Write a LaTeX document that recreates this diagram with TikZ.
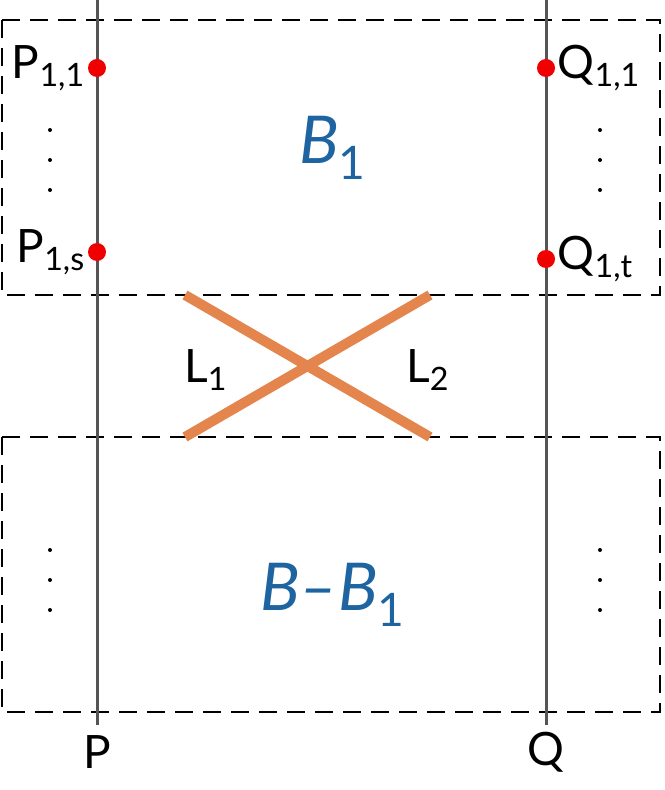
\documentclass[tikz,border=0pt]{standalone}
\usepackage{fontspec}
\setmainfont{Lato}
\usetikzlibrary{positioning}

\definecolor{axisgray}{HTML}{555555}
\definecolor{ptred}{HTML}{F00000}
\definecolor{lineorange}{HTML}{E3854D}
\definecolor{bblue}{HTML}{1E64A0}

\begin{document}
\begin{tikzpicture}[x=0.5pt, y=-0.5pt,
    axis/.style={axisgray, line width=1.5pt},
    region/.style={black, line width=1pt, dash pattern=on 9pt off 5pt},
    cross/.style={lineorange, line width=5pt},
    pt/.style={circle, fill=ptred, inner sep=0pt, minimum size=9pt},
    lbl/.style={font=\fontsize{23}{27}\selectfont, inner sep=1pt},
    big/.style={font=\fontsize{33}{38}\selectfont\itshape, text=bblue},
    dot/.style={circle, fill=black, inner sep=0pt, minimum size=2pt}]
    \useasboundingbox (0,0) rectangle (664,790);
    % regions
    \draw[region] (2,20) rectangle (660,295);
    \draw[region] (2,437) rectangle (660,712);
    % axes
    \coordinate (ptop) at (97,0);
    \coordinate (pbot) at (97,725);
    \coordinate (qtop) at (546,0);
    \coordinate (qbot) at (546,725);
    \draw[axis] (ptop) -- (pbot);
    \draw[axis] (qtop) -- (qbot);
    \node[lbl] (plabel) at (97,752) {P};
    \node[lbl] (qlabel) at (546,752) {Q};
    % points
    \node[pt] (p11) at (97,68) {};
    \node[pt] (p1s) at (97,252) {};
    \node[pt] (q11) at (546,68) {};
    \node[pt] (q1t) at (546,259) {};
    \node[lbl, left=0pt of p11] {P\textsubscript{1,1}};
    \node[lbl, left=0pt of p1s] {P\textsubscript{1,s}};
    \node[lbl, right=0pt of q11] {Q\textsubscript{1,1}};
    \node[lbl, right=0pt of q1t] {Q\textsubscript{1,t}};
    \foreach \y in {130,160,190} {
        \node[dot] (dl\y) at (50,\y) {};
        \node[dot] (dr\y) at (600,\y) {};
    }
    \foreach \y in {550,580,610} {
        \node[dot] (el\y) at (50,\y) {};
        \node[dot] (er\y) at (600,\y) {};
    }
    % crossing lines
    \coordinate (a1) at (185,295);
    \coordinate (a2) at (430,437);
    \coordinate (b1) at (185,437);
    \coordinate (b2) at (430,295);
    \draw[cross] (a1) -- (a2);
    \draw[cross] (b1) -- (b2);
    \node[lbl] (l1) at (206,370) {L\textsubscript{1}};
    \node[lbl] (l2) at (428,370) {L\textsubscript{2}};
    % region names
    \node[big] (b) at (333,148) {B\textsubscript{\upshape 1}};
    \node[big] (bb) at (333,595) {B–B\textsubscript{\upshape 1}};
\end{tikzpicture}
\end{document}
